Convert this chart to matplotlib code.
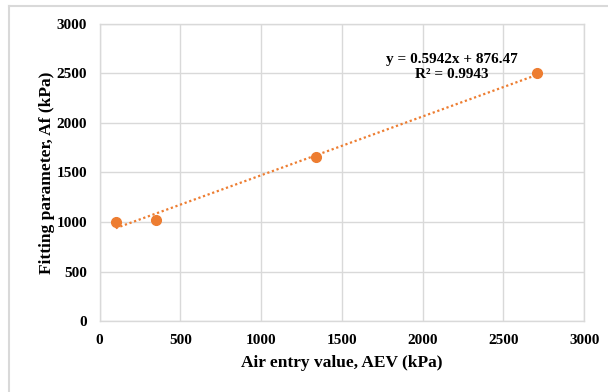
"""Fitting parameter Af against air entry value, with linear trendline."""

import matplotlib.pyplot as plt
import numpy as np
from matplotlib.lines import Line2D

# Data
aev_kpa = [100, 350, 1340, 2710]
af_kpa = [1000, 1025, 1660, 2500]
x_ticks = [0, 500, 1000, 1500, 2000, 2500, 3000]
y_ticks = [0, 500, 1000, 1500, 2000, 2500, 3000]
equation_text = "y = 0.5942x + 876.47\nR² = 0.9943"

ORANGE = "#ED7D31"
GRID = "#D9D9D9"

plt.rcParams["font.family"] = ["Liberation Serif", "DejaVu Serif"]
plt.rcParams["font.weight"] = "bold"

fig = plt.figure(figsize=(6.08, 3.92), dpi=100)
ax = fig.add_axes([0.1637, 0.181, 0.7973, 0.758])

# Outer chart frame (only top and left edges are visible in the crop)
fx, fy = 8.5 / 608, 1 - 5.5 / 392
fig.lines.append(Line2D([fx, 1], [fy, fy], transform=fig.transFigure,
                        color=GRID, linewidth=1.5))
fig.lines.append(Line2D([fx, fx], [0, fy], transform=fig.transFigure,
                        color=GRID, linewidth=1.5))

# Linear trendline through the points
slope, intercept = np.polyfit(aev_kpa, af_kpa, 1)
x_fit = np.array([min(aev_kpa), max(aev_kpa)])
ax.plot(x_fit, slope * x_fit + intercept, linestyle=(0, (1, 1.2)),
        color=ORANGE, linewidth=1.6, zorder=3)

ax.plot(aev_kpa, af_kpa, linestyle="none", marker="o", markersize=7,
        color=ORANGE, zorder=4)

ax.text(2180, 2420, equation_text, ha="center", va="bottom",
        fontsize=11, fontweight="bold", linespacing=1.25)

ax.set_xlim(0, 3000)
ax.set_ylim(0, 3000)
ax.set_xticks(x_ticks)
ax.set_yticks(y_ticks)
ax.tick_params(length=0, labelsize=11)
ax.tick_params(axis="x", pad=9)
ax.tick_params(axis="y", pad=9)
ax.grid(True, color=GRID, linewidth=1)
ax.set_axisbelow(True)
for spine in ax.spines.values():
    spine.set_color(GRID)
    spine.set_linewidth(1)

ax.set_xlabel("Air entry value, AEV (kPa)", fontsize=12.5, fontweight="bold", labelpad=6)
ax.set_ylabel("Fitting parameter, Af (kPa)", fontsize=12.5, fontweight="bold", labelpad=1)

fig.savefig("out.png", dpi=100)
